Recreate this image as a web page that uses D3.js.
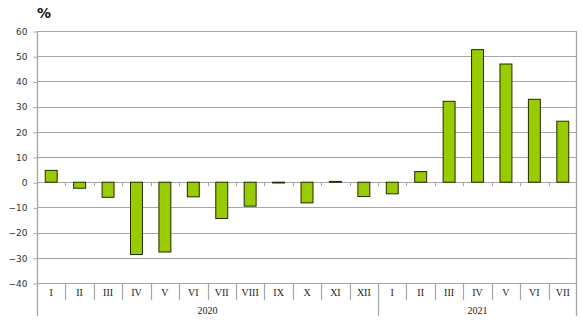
<!DOCTYPE html>
<html>
<head>
<meta charset="utf-8">
<script src="https://cdn.jsdelivr.net/npm/d3@7"></script>
<style>
  html, body { margin: 0; padding: 0; background: #fff; }
  svg { display: block; }
</style>
</head>
<body>
<div id="chart"></div>
<script>
// Monthly change, %
const months = ["I","II","III","IV","V","VI","VII","VIII","IX","X","XI","XII",
                "I","II","III","IV","V","VI","VII"];
const years = ["2020", "2021"];
const yearMonthCounts = [12, 7];
const values = [4.7, -2.4, -6.0, -28.7, -27.7, -5.8, -14.4, -9.5, -0.3, -8.2, 0.3, -5.7,
                -4.6, 4.2, 32.1, 52.6, 46.9, 32.9, 24.2];
const yTicks = [60, 50, 40, 30, 20, 10, 0, -10, -20, -30, -40];

const W = 582, H = 327;
const plotLeft = 37, plotRight = 577, plotTop = 31, plotBottom = 283;
const monthRowBottom = 300, frameBottom = 316;

const svg = d3.select("#chart").append("svg")
  .attr("width", W).attr("height", H);

const idx = months.map((_, i) => i);
const x = d3.scaleBand().domain(idx).range([plotLeft, plotRight]).paddingInner(0.58).paddingOuter(0.29);
const xCat = d3.scaleBand().domain(idx).range([plotLeft, plotRight]);
const y = d3.scaleLinear().domain([-40, 60]).range([plotBottom, plotTop]);

const gridColor = "#a6a6a6";

// horizontal gridlines
svg.append("g").selectAll("line").data(yTicks).join("line")
  .attr("x1", plotLeft).attr("x2", plotRight)
  .attr("y1", d => Math.round(y(d)) + 0.5).attr("y2", d => Math.round(y(d)) + 0.5)
  .attr("stroke", gridColor).attr("stroke-width", 1.2);

// y axis
const yAxis = d3.axisLeft(y).tickValues(yTicks).tickSize(4).tickPadding(6);
const gy = svg.append("g").attr("transform", `translate(${plotLeft + 0.5},0)`).call(yAxis);
gy.select(".domain").remove();
gy.selectAll(".tick line").attr("stroke", gridColor).attr("transform", "translate(0,0.5)");
gy.selectAll(".tick text")
  .attr("font-family", "Verdana, 'DejaVu Sans', sans-serif")
  .attr("font-size", 9).attr("fill", "#333").attr("dy", "0.36em");

// frame: left axis line and right border down to the year row
svg.append("line").attr("x1", plotLeft + 0.5).attr("x2", plotLeft + 0.5)
  .attr("y1", plotTop).attr("y2", frameBottom).attr("stroke", gridColor).attr("stroke-width", 1.3);
svg.append("line").attr("x1", plotRight - 0.5).attr("x2", plotRight - 0.5)
  .attr("y1", plotTop).attr("y2", frameBottom).attr("stroke", gridColor).attr("stroke-width", 1.3);

// month separators in the category row
svg.append("g").selectAll("line").data(idx.slice(1)).join("line")
  .attr("x1", d => Math.round(xCat(d)) + 0.5).attr("x2", d => Math.round(xCat(d)) + 0.5)
  .attr("y1", plotBottom).attr("y2", d => d === yearMonthCounts[0] ? frameBottom : monthRowBottom)
  .attr("stroke", gridColor).attr("stroke-width", 1.2);

// small ticks on the zero line at category boundaries
svg.append("g").selectAll("line").data(idx.slice(1)).join("line")
  .attr("x1", d => Math.round(xCat(d)) + 0.5).attr("x2", d => Math.round(xCat(d)) + 0.5)
  .attr("y1", y(0)).attr("y2", y(0) + 4)
  .attr("stroke", gridColor).attr("stroke-width", 1);

// bars
svg.append("g").selectAll("rect").data(values).join("rect")
  .attr("x", (d, i) => x(i))
  .attr("width", x.bandwidth())
  .attr("y", d => y(Math.max(0, d)))
  .attr("height", d => Math.max(0.8, Math.abs(y(d) - y(0))))
  .attr("fill", "#99cc00")
  .attr("stroke", "#1f2a00").attr("stroke-width", 1);

// month labels
svg.append("g").selectAll("text").data(months).join("text")
  .attr("x", (d, i) => xCat(i) + xCat.bandwidth() / 2)
  .attr("y", 296)
  .attr("text-anchor", "middle")
  .attr("font-family", "'Liberation Serif', 'Times New Roman', serif")
  .attr("font-size", 10).attr("fill", "#222")
  .text(d => d);

// year labels
let start = 0;
const yearPos = yearMonthCounts.map(n => {
  const p = { a: start, b: start + n - 1 };
  start += n;
  return p;
});
svg.append("g").selectAll("text").data(years).join("text")
  .attr("x", (d, i) => (xCat(yearPos[i].a) + xCat(yearPos[i].b) + xCat.bandwidth()) / 2)
  .attr("y", 314)
  .attr("text-anchor", "middle")
  .attr("font-family", "'Liberation Serif', 'Times New Roman', serif")
  .attr("font-size", 10).attr("fill", "#222")
  .text(d => d);

// unit label
svg.append("text")
  .attr("x", 37).attr("y", 18)
  .attr("font-family", "Verdana, 'DejaVu Sans', sans-serif")
  .attr("font-size", 14).attr("font-weight", "bold").attr("fill", "#111")
  .text("%");
</script>
</body>
</html>
